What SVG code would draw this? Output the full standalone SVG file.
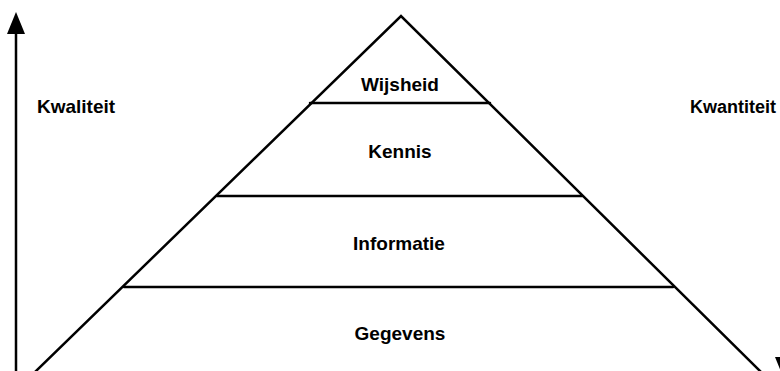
<svg xmlns="http://www.w3.org/2000/svg" width="780" height="371" viewBox="0 0 780 371">
<style>
.ln{stroke:#000;stroke-width:2.5;fill:none;stroke-linecap:round}
.t{font-family:"Liberation Sans",Arial,sans-serif;font-weight:bold;font-size:19px;fill:#000;text-anchor:middle}
.tl{font-family:"Liberation Sans",Arial,sans-serif;font-weight:bold;font-size:19px;fill:#000}
</style>
<rect width="780" height="371" fill="#fff"/>
<g id="connectors">
<line class="ln" x1="16" y1="30" x2="16" y2="372" stroke-width="3"/>
<polygon points="16,12 7,34 25,34" fill="#000"/>
<polygon points="775,357 792,357 783.5,378" fill="#000"/>
</g>
<g id="pyramid">
<polyline class="ln" points="35,372 401,16 761,372"/>
<line class="ln" x1="310" y1="103" x2="490" y2="103"/>
<line class="ln" x1="217" y1="196" x2="582" y2="196"/>
<line class="ln" x1="124" y1="287" x2="673" y2="287"/>
</g>
<g id="wijsheid"><text class="t" x="400" y="91">Wijsheid</text></g>
<g id="kennis"><text class="t" x="400" y="158">Kennis</text></g>
<g id="informatie"><text class="t" x="399" y="250">Informatie</text></g>
<g id="gegevens"><text class="t" x="400" y="340">Gegevens</text></g>
<g id="kwaliteit"><text class="tl" x="37" y="113">Kwaliteit</text></g>
<g id="kwantiteit"><text class="tl" x="690" y="113" style="font-size:18px">Kwantiteit</text></g>
</svg>
